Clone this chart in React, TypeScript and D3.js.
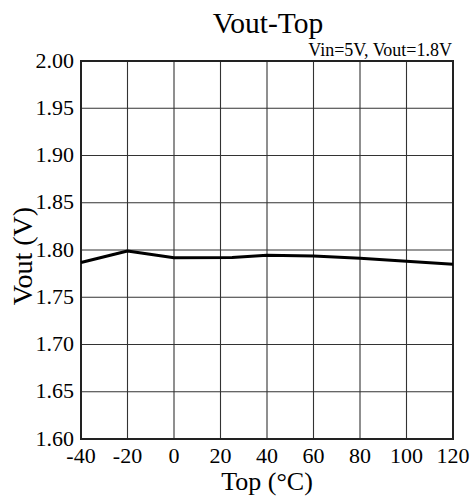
import React, { useRef, useEffect } from "react";
import * as d3 from "d3";

// temperature (°C) and output voltage (V)
const temps = [-40, -20, 0, 25, 40, 60, 80, 100, 120];
const vout = [1.7868, 1.7989, 1.7919, 1.7921, 1.7944, 1.7937, 1.7912, 1.788, 1.7849];

const xTicks = [-40, -20, 0, 20, 40, 60, 80, 100, 120];
const yTicks = [1.6, 1.65, 1.7, 1.75, 1.8, 1.85, 1.9, 1.95, 2.0];

const chartTitle = "Vout-Top";
const subTitle = "Vin=5V, Vout=1.8V";
const xTitle = "Top (°C)";
const yTitle = "Vout (V)";

function App() {
    const svgRef = useRef(null);
    useEffect(() => {
        const svg = d3.select(svgRef.current);
        svg.selectChildren().remove();

        const W = 473, H = 501;
        const left = 81, right = 453, top = 61, bottom = 439;
        const font = "'Liberation Serif', 'Times New Roman', serif";

        const x = d3.scaleLinear().domain([-40, 120]).range([left, right]);
        const y = d3.scaleLinear().domain([1.6, 2.0]).range([bottom, top]);

        svg.attr("width", W).attr("height", H);
        svg.append("rect").attr("width", W).attr("height", H).attr("fill", "white");

        // grid
        const grid = svg.append("g").attr("stroke", "#333").attr("stroke-width", 1.1);
        grid.selectAll("line.v")
            .data(xTicks.slice(1, -1))
            .join("line")
            .attr("x1", d => x(d)).attr("x2", d => x(d))
            .attr("y1", top).attr("y2", bottom);
        grid.selectAll("line.h")
            .data(yTicks.slice(1, -1))
            .join("line")
            .attr("x1", left).attr("x2", right)
            .attr("y1", d => y(d)).attr("y2", d => y(d));

        // frame
        svg.append("rect")
            .attr("x", left).attr("y", top)
            .attr("width", right - left).attr("height", bottom - top)
            .attr("fill", "none").attr("stroke", "#222").attr("stroke-width", 2);

        // data line
        svg.append("path")
            .datum(temps.map((t, i) => [t, vout[i]]))
            .attr("fill", "none")
            .attr("stroke", "black")
            .attr("stroke-width", 3)
            .attr("stroke-linejoin", "round")
            .attr("d", d3.line().x(d => x(d[0])).y(d => y(d[1])));

        // tick labels
        svg.append("g").selectAll("text")
            .data(yTicks)
            .join("text")
            .attr("x", left - 7)
            .attr("y", d => y(d) + 6.5)
            .attr("text-anchor", "end")
            .style("font-family", font).style("font-size", "22px")
            .text(d => d3.format(".2f")(d));

        svg.append("g").selectAll("text")
            .data(xTicks)
            .join("text")
            .attr("x", d => x(d))
            .attr("y", bottom + 23.5)
            .attr("text-anchor", "middle")
            .style("font-family", font).style("font-size", "22px")
            .text(d => d);

        // titles
        svg.append("text")
            .attr("x", (left + right) / 2 + 1).attr("y", 33)
            .attr("text-anchor", "middle")
            .style("font-family", font).style("font-size", "29.5px")
            .text(chartTitle);
        svg.append("text")
            .attr("x", right - 1).attr("y", 56)
            .attr("text-anchor", "end")
            .style("font-family", font).style("font-size", "18px")
            .text(subTitle);
        svg.append("text")
            .attr("x", (left + right) / 2).attr("y", 490)
            .attr("text-anchor", "middle")
            .style("font-family", font).style("font-size", "26px")
            .text(xTitle);
        svg.append("text")
            .attr("transform", "translate(32," + 256 + ") rotate(-90)")
            .attr("text-anchor", "middle")
            .style("font-family", font).style("font-size", "28px")
            .text(yTitle);
    }, []);
    return (
        <div style={{ position: "absolute", left: 0, top: 0 }}>
            <svg ref={svgRef} style={{ display: "block" }}></svg>
        </div>
    );
}

export default App;
